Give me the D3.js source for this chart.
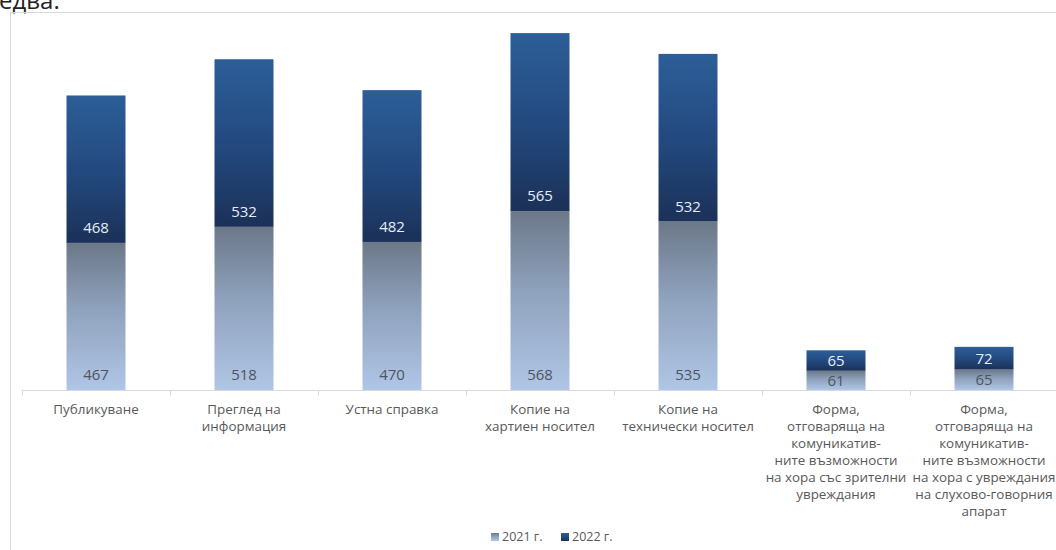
<!DOCTYPE html>
<html>
<head>
<meta charset="utf-8">
<script src="https://cdn.jsdelivr.net/npm/d3@7"></script>
<style>
  body { margin: 0; background: #fff; }
  svg { display: block; font-family: "Open Sans", "Noto Sans", sans-serif; }
</style>
</head>
<body>
<div id="chart"></div>
<script>
// chart data
var categories = [
  ["Публикуване"],
  ["Преглед на", "информация"],
  ["Устна справка"],
  ["Копие на", "хартиен носител"],
  ["Копие на", "технически носител"],
  ["Форма,", "отговаряща на", "комуникатив-", "ните възможности", "на хора със зрителни", "увреждания"],
  ["Форма,", "отговаряща на", "комуникатив-", "ните възможности", "на хора с увреждания", "на слухово-говорния", "апарат"]
];
var values2021 = [467, 518, 470, 568, 535, 61, 65];
var values2022 = [468, 532, 482, 565, 532, 65, 72];
var seriesNames = ["2021 г.", "2022 г."];

var W = 1056, H = 550;
var svg = d3.select("#chart").append("svg")
    .attr("width", W)
    .attr("height", H);

// gradients
var defs = svg.append("defs");
var g1 = defs.append("linearGradient").attr("id", "grad2021")
    .attr("x1", 0).attr("y1", 1).attr("x2", 0).attr("y2", 0);
g1.append("stop").attr("offset", "0%").attr("stop-color", "#b0c6e6");
g1.append("stop").attr("offset", "55%").attr("stop-color", "#8fa2bd");
g1.append("stop").attr("offset", "100%").attr("stop-color", "#6b7888");
var g2 = defs.append("linearGradient").attr("id", "grad2022")
    .attr("x1", 0).attr("y1", 1).attr("x2", 0).attr("y2", 0);
g2.append("stop").attr("offset", "0%").attr("stop-color", "#1b3158");
g2.append("stop").attr("offset", "50%").attr("stop-color", "#234a80");
g2.append("stop").attr("offset", "100%").attr("stop-color", "#2d5e98");

// text from the page above, cut off by the top edge as in the original
svg.append("text")
    .attr("x", -1)
    .attr("y", 9)
    .attr("font-size", "24px")
    .attr("fill", "#222")
    .text("едва.");

// chart border
svg.append("rect")
    .attr("x", 10.5).attr("y", 12.5)
    .attr("width", W).attr("height", H)
    .attr("fill", "none")
    .attr("stroke", "#d9d9d9");

var baseY = 390;
var x = d3.scaleBand()
    .domain(d3.range(categories.length))
    .range([22, 1058])
    .paddingInner(0).paddingOuter(0);

var y = d3.scaleLinear()
    .domain([0, 1200])
    .range([baseY, 12]);

var barW = 59;
var stacked = categories.map(function (c, i) {
  return { i: i, a: values2021[i], b: values2022[i] };
});

var bars = svg.append("g");
bars.selectAll(".b2021")
    .data(stacked).enter()
    .append("rect")
    .attr("class", "b2021")
    .attr("x", function (d) { return x(d.i) + x.bandwidth() / 2 - barW / 2; })
    .attr("y", function (d) { return y(d.a); })
    .attr("width", barW)
    .attr("height", function (d) { return y(0) - y(d.a); })
    .attr("fill", "url(#grad2021)");

bars.selectAll(".b2022")
    .data(stacked).enter()
    .append("rect")
    .attr("class", "b2022")
    .attr("x", function (d) { return x(d.i) + x.bandwidth() / 2 - barW / 2; })
    .attr("y", function (d) { return y(d.a + d.b); })
    .attr("width", barW)
    .attr("height", function (d) { return y(d.a) - y(d.a + d.b); })
    .attr("fill", "url(#grad2022)");

// value labels near the base of each segment
function labelY(bottom, top) {
  var h = bottom - top;
  return bottom - Math.min(15, h / 2);
}
bars.selectAll(".l2021")
    .data(stacked).enter()
    .append("text")
    .attr("x", function (d) { return x(d.i) + x.bandwidth() / 2; })
    .attr("y", function (d) { return labelY(y(0), y(d.a)); })
    .attr("dy", "0.36em")
    .attr("text-anchor", "middle")
    .attr("font-size", "15px")
    .attr("fill", "#4d5560")
    .text(function (d) { return d.a; });

bars.selectAll(".l2022")
    .data(stacked).enter()
    .append("text")
    .attr("x", function (d) { return x(d.i) + x.bandwidth() / 2; })
    .attr("y", function (d) { return labelY(y(d.a), y(d.a + d.b)); })
    .attr("dy", "0.36em")
    .attr("text-anchor", "middle")
    .attr("font-size", "15px")
    .attr("fill", "#e6edf7")
    .text(function (d) { return d.b; });

// x axis
var axis = svg.append("g")
    .attr("transform", "translate(0," + (baseY + 0.5) + ")");
axis.append("line")
    .attr("x1", 22).attr("x2", W)
    .attr("stroke", "#d9d9d9");
axis.selectAll(".tick")
    .data(d3.range(categories.length))
    .enter().append("line")
    .attr("x1", function (d) { return Math.round(x(d)) + 0.5; })
    .attr("x2", function (d) { return Math.round(x(d)) + 0.5; })
    .attr("y1", 0).attr("y2", 5)
    .attr("stroke", "#d9d9d9");

var lab = axis.selectAll(".cat")
    .data(categories)
    .enter().append("text")
    .attr("class", "cat")
    .attr("text-anchor", "middle")
    .attr("font-size", "13.4px")
    .attr("fill", "#595959")
    .attr("transform", function (d, i) {
      return "translate(" + (x(i) + x.bandwidth() / 2) + ",23)";
    });
lab.selectAll("tspan")
    .data(function (d) { return d; })
    .enter().append("tspan")
    .attr("x", 0)
    .attr("y", function (d, j) { return j * 17; })
    .text(function (d) { return d; });

// legend
var legend = svg.append("g").attr("transform", "translate(491,537)");
var legX = [0, 70];
seriesNames.forEach(function (s, i) {
  var g = legend.append("g").attr("transform", "translate(" + legX[i] + ",0)");
  g.append("rect")
      .attr("x", 0).attr("y", -4)
      .attr("width", 8).attr("height", 8)
      .attr("fill", i === 0 ? "url(#grad2021)" : "url(#grad2022)");
  g.append("text")
      .attr("x", 11).attr("y", 0)
      .attr("dy", "0.35em")
      .attr("font-size", "12.5px")
      .attr("fill", "#595959")
      .text(s);
});
</script>
</body>
</html>
